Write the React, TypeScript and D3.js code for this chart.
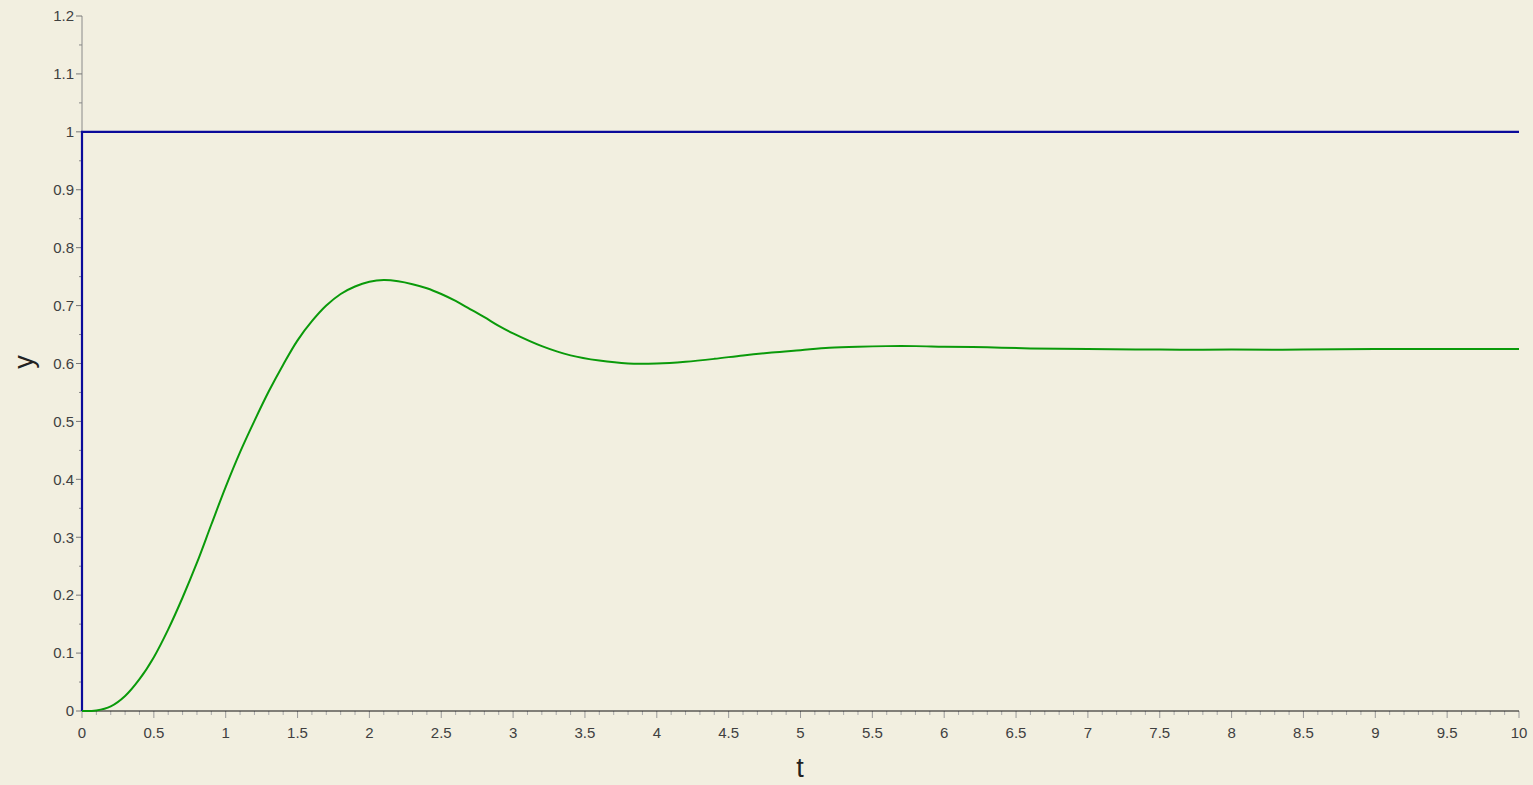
import React from "react";
import * as d3 from "d3";

const tValues = [0, 0.1, 0.2, 0.3, 0.4, 0.5, 0.6, 0.7, 0.8, 0.9, 1.0, 1.1, 1.2, 1.3, 1.4, 1.5, 1.6, 1.7, 1.8, 1.9, 2.0, 2.1, 2.2, 2.3, 2.4, 2.5, 2.6, 2.7, 2.8, 2.9, 3.0, 3.2, 3.4, 3.6, 3.8, 4.0, 4.2, 4.4, 4.6, 4.8, 5.0, 5.2, 5.4, 5.6, 5.8, 6.0, 6.3, 6.6, 7.0, 7.5, 8.0, 8.5, 9.0, 9.5, 10];
const outputValues = [0, 0.001, 0.008, 0.026, 0.055, 0.093, 0.141, 0.196, 0.256, 0.322, 0.387, 0.447, 0.501, 0.552, 0.598, 0.64, 0.673, 0.7, 0.72, 0.733, 0.741, 0.744, 0.742, 0.737, 0.73, 0.72, 0.708, 0.694, 0.68, 0.665, 0.652, 0.63, 0.614, 0.605, 0.6, 0.6, 0.603, 0.608, 0.614, 0.619, 0.623, 0.627, 0.629, 0.63, 0.63, 0.629, 0.628, 0.626, 0.625, 0.624, 0.624, 0.624, 0.625, 0.625, 0.625];
const stepT = [0, 0, 10];
const stepValues = [0, 1, 1];
const xTicks = [0, 0.5, 1, 1.5, 2, 2.5, 3, 3.5, 4, 4.5, 5, 5.5, 6, 6.5, 7, 7.5, 8, 8.5, 9, 9.5, 10];
const yTicks = [0, 0.1, 0.2, 0.3, 0.4, 0.5, 0.6, 0.7, 0.8, 0.9, 1, 1.1, 1.2];

const W = 1533, H = 785;
const x = d3.scaleLinear().domain([0, 10]).range([82, 1519]);
const y = d3.scaleLinear().domain([0, 1.2]).range([711, 16]);

export default function App() {
  const line = d3.line<[number, number]>().x(d => x(d[0])).y(d => y(d[1]));
  const greenPath = d3.line<[number, number]>().x(d => x(d[0])).y(d => y(d[1])).curve(d3.curveCatmullRom.alpha(0.5))(tValues.map((t, i) => [t, outputValues[i]]) as [number, number][]);
  const bluePath = line(stepT.map((t, i) => [t, stepValues[i]]) as [number, number][]);
  const xMinor = d3.range(0, 101).map(i => i / 10).filter(v => Math.round(v * 10) % 5 !== 0);
  const yMinor = d3.range(0, 24).map(i => i * 0.05 + 0.05).filter((v, i) => i % 2 === 0 && v < 1.2);
  const fmt = (v: number) => String(Math.round(v * 10) / 10);
  const font = "'Liberation Sans', Arial, sans-serif";
  return (
    <svg width={W} height={H} style={{ position: "fixed", left: 0, top: 0, background: "#F2EFE0" }}>
      <rect x={0} y={0} width={W} height={H} fill="#F2EFE0" />
      {/* Y axis */}
      <line x1={82} x2={82} y1={y(1.2)} y2={y(0)} stroke="#8a8a8a" strokeWidth={1} />
      {yTicks.map(v => (
        <g key={"yt" + v}>
          <line x1={76} x2={82} y1={y(v)} y2={y(v)} stroke="#777" strokeWidth={1} />
          <text x={74} y={y(v)} dy="0.35em" textAnchor="end" fontFamily={font} fontSize={15} fill="#404040">{fmt(v)}</text>
        </g>
      ))}
      {yMinor.map(v => (
        <line key={"ym" + v} x1={79} x2={82} y1={y(v)} y2={y(v)} stroke="#888" strokeWidth={1} />
      ))}
      {/* X axis */}
      {xTicks.map(v => (
        <g key={"xt" + v}>
          <line x1={x(v)} x2={x(v)} y1={711} y2={718} stroke="#999" strokeWidth={1} />
          <text x={x(v)} y={738} textAnchor="middle" fontFamily={font} fontSize={15} fill="#404040">{fmt(v)}</text>
        </g>
      ))}
      {xMinor.map(v => (
        <line key={"xm" + v} x1={x(v)} x2={x(v)} y1={711} y2={715} stroke="#aaa" strokeWidth={1} />
      ))}
      <line x1={x(0)} x2={x(10)} y1={711} y2={711} stroke="#111" strokeWidth={1.2} />
      {/* Series */}
      <path d={bluePath || ""} fill="none" stroke="#0b0b9a" strokeWidth={2.2} />
      <path d={greenPath || ""} fill="none" stroke="#0a9a0a" strokeWidth={2} />
      {/* Axis labels */}
      <text x={800} y={777} textAnchor="middle" fontFamily={font} fontSize={27} fill="#222">t</text>
      <text transform={`translate(33,362) rotate(-90)`} textAnchor="middle" fontFamily={font} fontSize={27} fill="#222">y</text>
    </svg>
  );
}
